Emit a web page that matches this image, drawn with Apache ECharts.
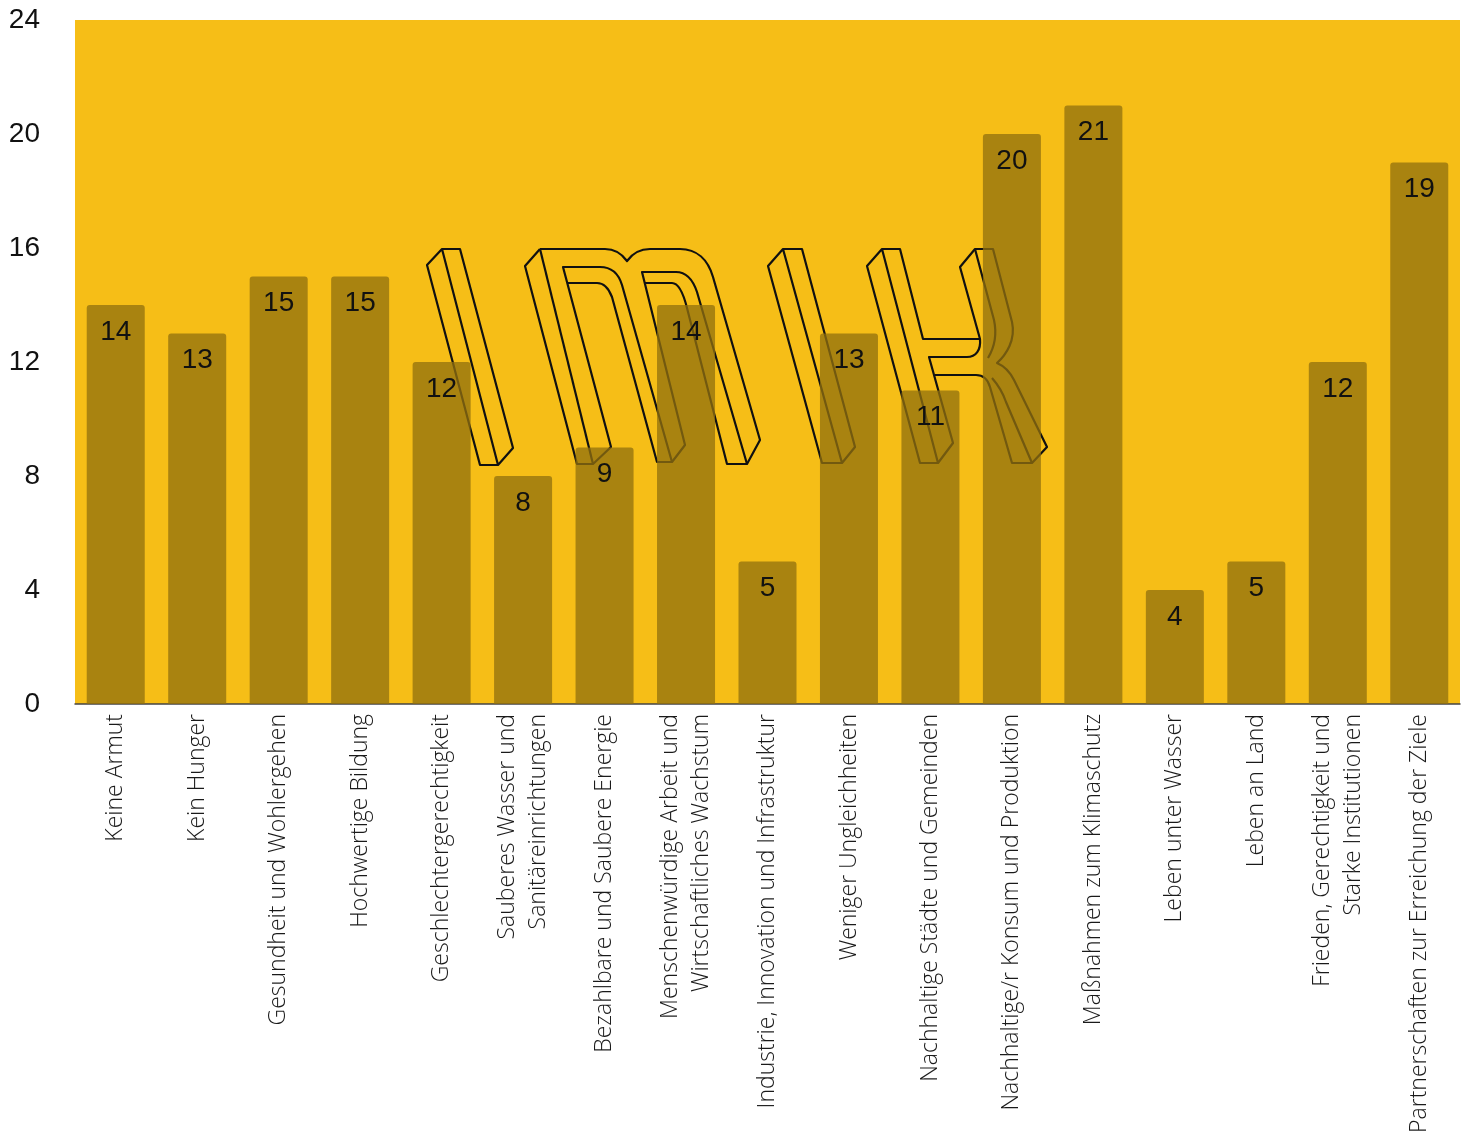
<!DOCTYPE html>
<html>
<head>
<meta charset="utf-8">
<script src="https://cdn.jsdelivr.net/npm/echarts@6/dist/echarts.min.js"></script>
<style>
html,body{margin:0;padding:0;background:#fff;}
#chart{width:1464px;height:1131px;}
</style>
</head>
<body>
<div id="chart"></div>
<script>
const categories = [
  'Keine Armut',
  'Kein Hunger',
  'Gesundheit und Wohlergehen',
  'Hochwertige Bildung',
  'Geschlechtergerechtigkeit',
  'Sauberes Wasser und\nSanitäreinrichtungen',
  'Bezahlbare und Saubere Energie',
  'Menschenwürdige Arbeit und\nWirtschaftliches Wachstum',
  'Industrie, Innovation und Infrastruktur',
  'Weniger Ungleichheiten',
  'Nachhaltige Städte und Gemeinden',
  'Nachhaltige/r Konsum und Produktion',
  'Maßnahmen zum Klimaschutz',
  'Leben unter Wasser',
  'Leben an Land',
  'Frieden, Gerechtigkeit und\nStarke Institutionen',
  'Partnerschaften zur Erreichung der Ziele'
];
const values = [14, 13, 15, 15, 12, 8, 9, 14, 5, 13, 11, 20, 21, 4, 5, 12, 19];
const yTicks = [0, 4, 8, 12, 16, 20, 24];

// decorative watermark logo outlines (not data)
const logoPaths = [
  'M427,265 L442,249 L460,249 L513,448 L498,465 L480,465 Z M442,249 L498,465',
  'M540,249 L525,266 L577,464 L593,464 L611,447 L563,267 L600,267 C612,267 619,275 622,285 L672,462 L657,462 L612,297 C609,289 604,283 597,283 L568,283',
  'M540,249 L593,464',
  'M540,249 L605,249 C616,249 622,254 627,261 C632,254 639,249 650,249 L680,249 C697,249 708,260 713,277 L760,440 L747,464 L727,464 L687,308 C684,296 679,283 672,283 L644,283',
  'M672,462 L685,445 L642,272 L676,272 C687,272 693,280 697,292 L747,464',
  'M768,266 L783,249 L802,249 L855,447 L842,463 L822,463 Z M783,249 L842,463',
  'M882,249 L867,266 L920,463 L938,463 L953,443 L929,357 L967,357 C976,357 981,350 980,339 L923,339 L900,249 Z M882,249 L938,463',
  'M935,375 L976,375 C984,375 988,380 990,387 L1012,463 L1032,463 L1047,447 L1014,380 C1010,372 1004,366 997,363 C1006,355 1016,340 1012,322 L993,249 L975,249 L960,267 L980,339',
  'M975,249 L994,320 C997,334 994,348 988,358 M992,378 C999,386 1003,393 1006,402 L1032,463'
];

const chart = echarts.init(document.getElementById('chart'));
const option = {
  animation: false,
  grid: {
    left: 75, right: 4, top: 20, bottom: 427,
    outerBoundsMode: 'none',
    containLabel: false,
    show: true, backgroundColor: '#F6BE17', borderWidth: 0
  },
  xAxis: {
    type: 'category',
    data: categories,
    axisLine: { show: true, lineStyle: { color: '#444', width: 1.5 } },
    axisTick: { show: false },
    axisLabel: {
      interval: 0,
      rotate: 90,
      margin: 10,
      fontFamily: 'Open Sans',
      fontWeight: 300,
      fontSize: 23,
      lineHeight: 31,
      color: '#1a1a1a'
    }
  },
  yAxis: {
    type: 'value',
    min: 0, max: 24, interval: 4,
    splitLine: { show: false },
    axisLine: { show: false },
    axisTick: { show: false },
    axisLabel: {
      margin: 35,
      fontFamily: 'Liberation Sans',
      fontSize: 28,
      color: '#111',
      formatter: v => yTicks.includes(v) ? String(v) : ''
    }
  },
  series: [{
    type: 'custom',
    coordinateSystem: 'none',
    silent: true,
    z: 1,
    data: [0],
    renderItem: () => ({
      type: 'group',
      children: logoPaths.map(d => ({
        type: 'path',
        shape: { pathData: d },
        style: { fill: null, stroke: '#111', lineWidth: 2.2, lineJoin: 'round' }
      }))
    })
  }, {
    type: 'bar',
    z: 2,
    data: values,
    barWidth: 58,
    itemStyle: { color: 'rgba(145,112,15,0.76)', borderRadius: [3, 3, 0, 0] },
    label: {
      show: true,
      position: 'insideTop',
      distance: 13,
      fontFamily: 'Liberation Sans',
      fontSize: 28,
      color: '#111'
    }
  }]
};
chart.setOption(option);
</script>
</body>
</html>
